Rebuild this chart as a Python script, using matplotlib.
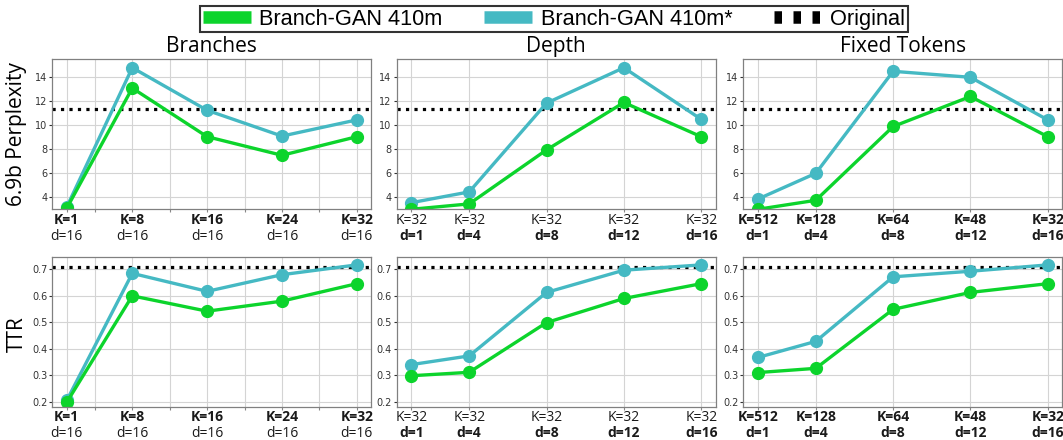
import matplotlib
matplotlib.use("Agg")
import matplotlib.pyplot as plt
from matplotlib.lines import Line2D

# --- data ------------------------------------------------------------------
branch_k = [1, 8, 16, 24, 32]
branch_d = [16, 16, 16, 16, 16]
depth_k = [32, 32, 32, 32, 32]
depth_d = [1, 4, 8, 12, 16]
fixed_k = [512, 128, 64, 48, 32]
fixed_d = [1, 4, 8, 12, 16]

# 6.9b perplexity
branch_ppl_410m = [3.1, 13.1, 9.05, 7.5, 9.05]
branch_ppl_410m_star = [3.2, 14.8, 11.25, 9.1, 10.45]
depth_ppl_410m = [3.0, 3.45, 7.95, 11.9, 9.05]
depth_ppl_410m_star = [3.55, 4.45, 11.85, 14.8, 10.5]
fixed_ppl_410m = [3.0, 3.75, 9.9, 12.4, 9.05]
fixed_ppl_410m_star = [3.85, 6.0, 14.5, 14.0, 10.45]
original_ppl = 11.35

# TTR
branch_ttr_410m = [0.198, 0.60, 0.542, 0.58, 0.646]
branch_ttr_410m_star = [0.205, 0.685, 0.617, 0.68, 0.717]
depth_ttr_410m = [0.298, 0.311, 0.499, 0.59, 0.646]
depth_ttr_410m_star = [0.34, 0.373, 0.613, 0.697, 0.717]
fixed_ttr_410m = [0.31, 0.326, 0.549, 0.613, 0.646]
fixed_ttr_410m_star = [0.367, 0.428, 0.672, 0.693, 0.717]
original_ttr = 0.71

titles = ["Branches", "Depth", "Fixed Tokens"]
row_labels = ["6.9b Perplexity", "TTR"]

GREEN = "#0cd42c"
CYAN = "#45b9c3"
TEXT = "Open Sans"

W, H = 1063, 440
fig = plt.figure(figsize=(W / 100, H / 100), dpi=100)

lefts = [52.3, 396.7, 743.3]
tops = [59.3, 256.7]
ax_w, ax_h = 319, 150


def panel(ax, x, green, cyan, original, k_vals, d_vals, k_bold, d_bold, extra_grid=()):
    ax.axhline(original, color="black", ls=":", lw=2.3, zorder=1.5)
    ax.plot(x, cyan, color=CYAN, lw=2.4, marker="o", ms=8.5, zorder=2)
    ax.plot(x, green, color=GREEN, lw=2.4, marker="o", ms=8.5, zorder=2)

    ticks = sorted(set(x) | set(extra_grid))
    labels = [f"K={k_vals[x.index(t)]}" if t in x else "" for t in ticks]
    ax.set_xticks(ticks)
    ax.set_xticklabels(labels, fontfamily=TEXT, fontsize=10,
                       fontweight="bold" if k_bold else "normal", color="#1a1a1a")
    for xi, d in zip(x, d_vals):
        ax.annotate(f"d={d}", xy=(xi, 0), xycoords=("data", "axes fraction"),
                    xytext=(0, -14.2), textcoords="offset points", ha="center", va="top",
                    fontfamily=TEXT, fontsize=10, fontweight="bold" if d_bold else "normal",
                    color="#1a1a1a")

    ax.grid(True, color="#d4d4d4", lw=0.8)
    ax.set_axisbelow(True)
    ax.tick_params(axis="y", labelsize=7, length=2, pad=1.6, colors="#333333")
    ax.tick_params(axis="x", length=2, pad=0.6, color="#888888")
    for s in ax.spines.values():
        s.set_color("#808080")
        s.set_linewidth(0.9)


rows = [
    [(branch_ppl_410m, branch_ppl_410m_star), (depth_ppl_410m, depth_ppl_410m_star),
     (fixed_ppl_410m, fixed_ppl_410m_star)],
    [(branch_ttr_410m, branch_ttr_410m_star), (depth_ttr_410m, depth_ttr_410m_star),
     (fixed_ttr_410m, fixed_ttr_410m_star)],
]
originals = [original_ppl, original_ttr]
ylims = [(3.0, 15.5), (0.181, 0.748)]
yticks = [[4, 6, 8, 10, 12, 14], [0.2, 0.3, 0.4, 0.5, 0.6, 0.7]]

for r in range(2):
    for c in range(3):
        ax = fig.add_axes([lefts[c] / W, 1 - (tops[r] + ax_h) / H, ax_w / W, ax_h / H])
        green, cyan = rows[r][c]
        if c == 0:
            panel(ax, branch_k, green, cyan, originals[r], branch_k, branch_d,
                  True, False, extra_grid=[4, 12, 20, 28])
        elif c == 1:
            panel(ax, depth_d, green, cyan, originals[r], depth_k, depth_d, False, True)
        else:
            panel(ax, fixed_d, green, cyan, originals[r], fixed_k, fixed_d, True, True)
        ax.set_ylim(*ylims[r])
        ax.set_yticks(yticks[r])
        if r == 1:
            ax.set_yticklabels([f"{v:.1f}" for v in yticks[r]])
        if r == 0:
            ax.set_title(titles[c], fontfamily=TEXT, fontsize=15, pad=5)

fig.text(17 / W, 1 - 134.3 / H, row_labels[0], rotation=90, ha="center", va="center",
         fontfamily=TEXT, fontsize=15)
fig.text(17 / W, 1 - 334 / H, row_labels[1], rotation=90, ha="center", va="center",
         fontfamily=TEXT, fontsize=15)

handles = [
    Line2D([], [], color=GREEN, lw=9, solid_capstyle="butt"),
    Line2D([], [], color=CYAN, lw=9, solid_capstyle="butt"),
    Line2D([], [], color="black", lw=9, ls=(0, (0.6, 0.92)), dash_capstyle="butt"),
]
leg = fig.legend(handles, ["Branch-GAN 410m", "Branch-GAN 410m*", "Original"],
                 loc="upper center", bbox_to_anchor=(554 / W, 1 - 6 / H), ncol=3,
                 prop={"family": "Liberation Sans", "size": 15.7}, frameon=True,
                 fancybox=False, edgecolor="black", borderpad=0.12, handlelength=2.2,
                 handletextpad=0.4, columnspacing=1.9, borderaxespad=0)
leg.get_frame().set_linewidth(1.5)

fig.savefig("out.png", dpi=100)
